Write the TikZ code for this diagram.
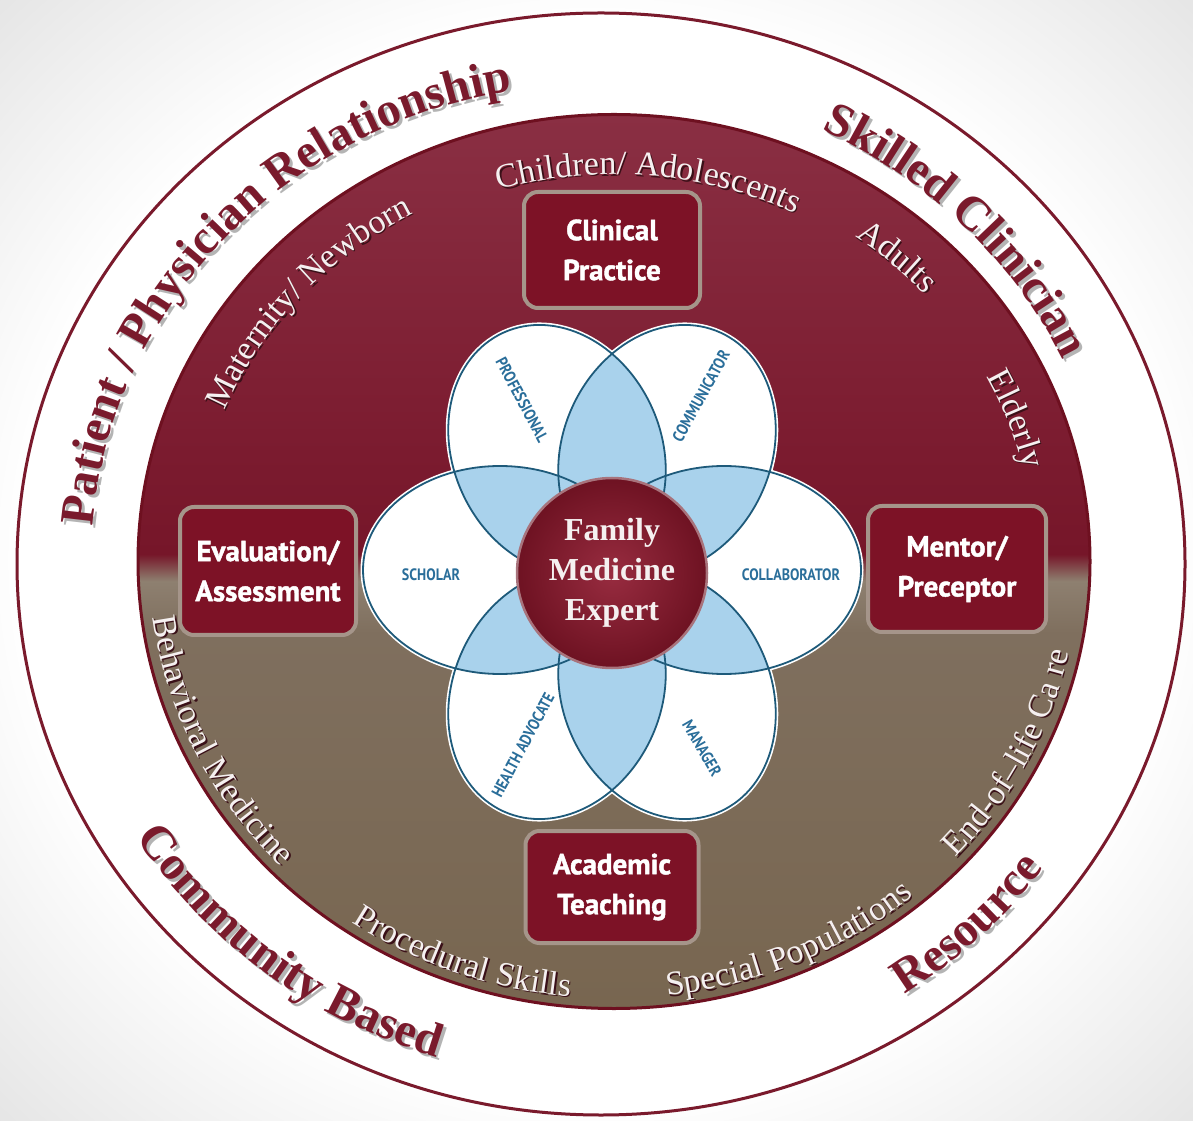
\documentclass[tikz,border=0pt]{standalone}
\usepackage{fontspec}
\setmainfont{Liberation Serif}
\newfontfamily\ringserif{Liberation Serif}
\newfontfamily\boxsans{PT Sans}[BoldFeatures={FakeBold=1.5}]
\newfontfamily\petalsans{PT Sans}[FakeStretch=0.85]
\usetikzlibrary{decorations.text}

\definecolor{ringred}{HTML}{7A1A2C}
\definecolor{ringshade}{HTML}{B4B4B4}
\definecolor{bggray}{HTML}{E4E4E4}
\definecolor{redtop}{HTML}{8A2F43}
\definecolor{redmid}{HTML}{7B1B2F}
\definecolor{redlow}{HTML}{761629}
\definecolor{browntop}{HTML}{8E8070}
\definecolor{brownmid}{HTML}{7F6F5E}
\definecolor{brownbot}{HTML}{786650}
\definecolor{discrim}{HTML}{6E1020}
\definecolor{boxred}{HTML}{7D1226}
\definecolor{boxrim}{HTML}{A5958A}
\definecolor{petalblue}{HTML}{A9D2EC}
\definecolor{petalline}{HTML}{1E5A7A}
\definecolor{petaltext}{HTML}{2A6E9A}
\definecolor{expertin}{HTML}{982C40}
\definecolor{expertout}{HTML}{6E1222}
\definecolor{expertrim}{HTML}{A8737C}
\definecolor{bandtext}{HTML}{F5F0F0}
\definecolor{bandshade}{HTML}{3A1018}

\pgfdeclareradialshading{bgshade}{\pgfpoint{0bp}{0bp}}{color(0bp)=(white); color(24bp)=(white); color(36bp)=(bggray); color(50bp)=(bggray)}
\pgfdeclareverticalshading{discshade}{100bp}{color(0bp)=(brownbot); color(25bp)=(brownbot); color(46bp)=(brownmid); color(48.9bp)=(browntop); color(50.4bp)=(redlow); color(56bp)=(redmid); color(75bp)=(redtop); color(100bp)=(redtop)}

\newcommand\ringfont{\ringserif\bfseries\fontsize{48}{48}\selectfont}
\newcommand\bandfont{\ringserif\fontsize{34}{34}\selectfont}

\begin{document}
\begin{tikzpicture}[x=1pt,y=1pt,
  rolebox/.style={draw=boxrim, line width=4, fill=boxred, rounded corners=14, text=white,
    font=\boxsans\bfseries\fontsize{29}{40}\selectfont, align=center, inner sep=0},
  petallabel/.style={text=petaltext, font=\petalsans\bfseries\fontsize{16.5}{16.5}\selectfont, inner sep=0},
  expert/.style={circle, minimum size=190, inner sep=0, shading=radial, inner color=expertin,
    outer color=expertout, draw=expertrim, line width=2.5, text=bandtext, align=center,
    font=\ringserif\bfseries\fontsize{32}{40}\selectfont},
  arclabel/.style={decorate, decoration={text along path, text align=center, text color=#1}}]

%BACKGROUND
  \shade[shading=bgshade] (0,0) rectangle (1193,1120);
  \useasboundingbox (0,0) rectangle (1193,1120);

%RING
\pgfmathsetmacro{\ringx}{601}
\pgfmathsetmacro{\ringy}{556}
  \draw[ringred, line width=3, fill=white] (\ringx,\ringy) ellipse[x radius=584, y radius=551];
  \foreach \sh/\col in {3/ringshade, 0/ringred}{
    \path[arclabel=\col, shift={(\sh,-\sh)}, decoration={text={|\ringfont|Patient / Physician Relationship}}]
      ([shift={(\ringx,\ringy)}]185:510 and 481) arc[start angle=185, end angle=91, x radius=510, y radius=481];
    \path[arclabel=\col, shift={(\sh,-\sh)}, decoration={text={|\ringfont|Skilled Clinician}}]
      ([shift={(\ringx,\ringy)}]76.5:510 and 481) arc[start angle=76.5, end angle=12.5, x radius=510, y radius=481];
    \path[arclabel=\col, shift={(\sh,-\sh)}, decoration={text={|\ringfont|Community Based}}]
      ([shift={(\ringx,\ringy)}]200:548 and 517) arc[start angle=200, end angle=264, x radius=548, y radius=517];
    \path[arclabel=\col, shift={(\sh,-\sh)}, decoration={text={|\ringfont|Resource}}]
      ([shift={(\ringx,\ringy)}]290:548 and 517) arc[start angle=290, end angle=338, x radius=548, y radius=517];
  }

%DISC
\pgfmathsetmacro{\discx}{614}
\pgfmathsetmacro{\discy}{558.5}
  \shade[shading=discshade] (\discx,\discy) ellipse[x radius=476, y radius=447];
  \draw[discrim, line width=3] (\discx,\discy) ellipse[x radius=476, y radius=447];
  \foreach \sh/\col in {1.5/bandshade, 0/bandtext}{
    \path[arclabel=\col, shift={(\sh,-\sh)}, decoration={text={|\bandfont|Children/ Adolescents}}]
      ([shift={(\discx,\discy)}]125:412 and 387) arc[start angle=125, end angle=45, x radius=412, y radius=387];
    \path[arclabel=\col, shift={(\sh,-\sh)}, decoration={text={|\bandfont|Maternity/ Newborn}}]
      ([shift={(\discx,\discy)}]175:421 and 396) arc[start angle=175, end angle=102, x radius=421, y radius=396];
    \path[arclabel=\col, shift={(\sh,-\sh)}, decoration={text={|\bandfont|Adults}}]
      ([shift={(\discx,\discy)}]70:421 and 396) arc[start angle=70, end angle=27, x radius=421, y radius=396];
    \path[arclabel=\col, shift={(\sh,-\sh)}, decoration={text={|\bandfont|Elderly}}]
      ([shift={(\discx,\discy)}]40:421 and 396) arc[start angle=40, end angle=1, x radius=421, y radius=396];
    \path[arclabel=\col, shift={(\sh,-\sh)}, decoration={text={|\bandfont|Behavioral Medicine}}]
      ([shift={(\discx,\discy)}]170:465 and 437) arc[start angle=170, end angle=241, x radius=465, y radius=437];
    \path[arclabel=\col, shift={(\sh,-\sh)}, decoration={text={|\bandfont|Procedural Skills}}]
      ([shift={(\discx,\discy)}]225:465 and 437) arc[start angle=225, end angle=275, x radius=465, y radius=437];
    \path[arclabel=\col, shift={(\sh,-\sh)}, decoration={text={|\bandfont|Special Populations}}]
      ([shift={(\discx,\discy)}]265:465 and 437) arc[start angle=265, end angle=322, x radius=465, y radius=437];
    \path[arclabel=\col, shift={(\sh,-\sh)}, decoration={text={|\bandfont|End-of–life Ca re}}]
      ([shift={(\discx,\discy)}]300:465 and 437) arc[start angle=300, end angle=366, x radius=465, y radius=437];
  }

%ROLES
  \node[rolebox, minimum width=176, minimum height=116] (clinical) at (612,870) {Clinical\\Practice};
  \node[rolebox, minimum width=176, minimum height=128] (evaluation) at (268,549) {Evaluation/\\Assessment};
  \node[rolebox, minimum width=178, minimum height=126] (mentor) at (957,551) {Mentor/\\Preceptor};
  \node[rolebox, minimum width=173, minimum height=112] (academic) at (612,233) {Academic\\Teaching};

%FLOWER
  \foreach \petx/\pety/\petr/\peta in {500/550/0/137, 557/670/114.6/129, 667/670/65.4/129, 724/550/0/137, 667/426/-65.4/129, 557/426/65.4/129}
    \fill[white, draw=white, line width=5, shift={(\petx,\pety)}, rotate=\petr] (0,0) ellipse[x radius=\peta, y radius=104];
  \foreach \ax/\ay/\ar/\aa/\bx/\by/\br/\ba in {500/550/0/137/557/670/114.6/129, 557/670/114.6/129/667/670/65.4/129,
      667/670/65.4/129/724/550/0/137, 724/550/0/137/667/426/-65.4/129,
      667/426/-65.4/129/557/426/65.4/129, 557/426/65.4/129/500/550/0/137}{
    \begin{scope}
      \clip[shift={(\ax,\ay)}, rotate=\ar] (0,0) ellipse[x radius=\aa, y radius=104];
      \fill[petalblue, shift={(\bx,\by)}, rotate=\br] (0,0) ellipse[x radius=\ba, y radius=104];
    \end{scope}
  }
  \foreach \petx/\pety/\petr/\peta in {500/550/0/137, 557/670/114.6/129, 667/670/65.4/129, 724/550/0/137, 667/426/-65.4/129, 557/426/65.4/129}
    \draw[petalline, line width=1.8, shift={(\petx,\pety)}, rotate=\petr] (0,0) ellipse[x radius=\peta, y radius=104];

  \node[expert] (expert) at (612,547) {Family\\Medicine\\Expert};

  \node[petallabel] (scholar) at (431,545) {SCHOLAR};
  \node[petallabel] (collaborator) at (791,545) {COLLABORATOR};
  \node[petallabel, rotate=-62] (professional) at (522,720) {PROFESSIONAL};
  \node[petallabel, rotate=61] (communicator) at (701,724) {COMMUNICATOR};
  \node[petallabel, rotate=62] (advocate) at (523,375) {HEALTH ADVOCATE};
  \node[petallabel, rotate=-60] (manager) at (702,372) {MANAGER};
\end{tikzpicture}
\end{document}
